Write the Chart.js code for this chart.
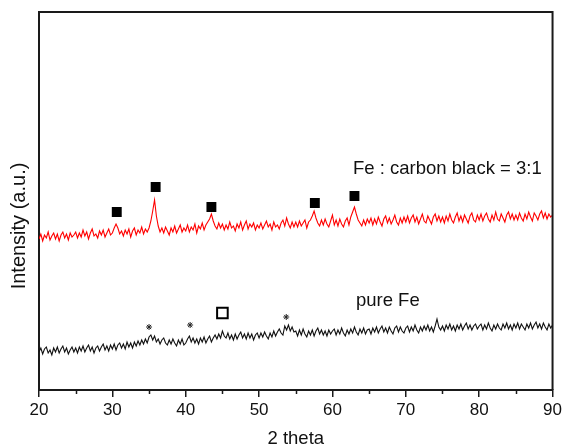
<!DOCTYPE html>
<html>
<head>
<meta charset="utf-8">
<script src="https://cdn.jsdelivr.net/npm/chart.js@4/dist/chart.umd.min.js"></script>
<style>
  html, body { margin: 0; padding: 0; background: #fff; }
  #wrap { width: 565px; height: 448px; position: relative; }
</style>
</head>
<body>
<div id="wrap"><canvas id="c" width="565" height="448"></canvas></div>
<script>
// ---- data ----
const angleStart = 20;      // 2 theta of first sample
const angleStep = 0.25;     // sampling step of the scan
const xTickLabels = [20, 30, 40, 50, 60, 70, 80, 90];

// Fe : carbon black = 3:1 (red trace), arbitrary intensity units
const redIntensity = [
  151,156,149,155,152,158,150,154,157,151,156,149,155,158,152,156,150,157,153,155,
  158,152,157,153,160,154,158,151,157,161,154,156,152,159,155,160,153,157,161,155,
  157,162,166,162,156,159,154,160,156,161,153,159,162,155,160,157,163,156,161,158,
  162,169,179,190,174,164,158,162,157,163,159,155,162,158,164,157,161,165,158,162,
  159,165,158,163,160,166,157,164,161,167,160,165,168,171,176,169,164,161,167,162,
  166,160,165,161,168,162,164,159,166,162,168,160,165,169,161,166,163,167,160,165,
  162,167,161,165,169,163,166,160,168,163,165,161,167,170,164,172,166,162,168,163,
  168,163,169,164,167,170,162,168,170,174,179,172,167,164,170,165,171,166,163,169,
  175,165,170,164,171,166,163,169,172,165,173,178,183,176,170,167,164,170,165,171,
  167,172,165,171,166,173,168,164,171,174,167,172,166,170,175,168,165,172,167,173,
  168,174,167,172,175,168,173,166,171,176,169,167,174,170,166,173,176,169,174,168,
  173,167,174,169,176,170,167,173,177,169,174,168,175,171,167,174,177,170,168,175,
  170,176,169,174,177,171,168,175,170,178,171,169,176,172,168,175,178,171,176,170,
  175,170,177,172,169,176,171,178,173,169,177,174,170,176,179,172,177,171,176,173,
  175
];

// pure Fe (black trace)
const blackIntensity = [
  38,42,36,41,43,37,40,35,42,38,43,37,41,44,38,42,36,40,43,38,
  42,37,43,39,44,38,42,45,39,43,37,42,44,39,43,46,40,44,39,45,
  41,46,40,45,47,42,46,41,48,43,47,42,48,44,49,45,50,46,51,47,
  53,55,50,54,48,51,46,50,52,47,45,50,46,51,47,44,50,46,51,45,
  47,51,54,48,52,47,51,46,52,48,53,47,51,54,48,52,55,51,56,52,
  59,54,52,57,51,55,50,56,51,55,58,52,56,51,57,52,56,50,55,57,
  52,57,53,58,54,51,57,53,59,54,58,61,57,55,64,60,65,59,63,58,
  59,54,60,55,61,56,53,59,55,60,54,59,62,56,60,55,59,54,60,56,
  59,61,55,60,56,62,57,54,60,56,61,57,63,58,55,61,57,62,56,60,
  61,56,62,58,63,57,61,64,58,62,57,63,59,56,62,64,58,63,59,57,
  62,64,58,63,59,65,60,57,63,59,64,60,65,59,63,58,64,71,63,60,
  64,59,65,61,66,60,64,59,65,61,66,60,64,67,61,65,60,64,66,61,
  64,66,60,65,61,67,62,59,65,61,66,62,60,66,62,67,61,65,60,66,
  62,67,61,66,63,60,66,62,67,61,65,68,62,66,61,67,63,60,66,62,
  65
];

// peak markers
const filledSquareX = [30.6, 35.9, 43.5, 57.6, 63.0];
const filledSquareY = [178, 203, 183, 187, 194];
const hollowSquareX = [45.0];
const hollowSquareY = [77];
const asteriskX = [35.0, 40.6, 53.7];
const asteriskY = [63, 65, 73];

// annotation labels (data coordinates)
const labelTexts = ['Fe : carbon black = 3:1', 'pure Fe'];
const labelX = [62.8, 63.2];
const labelY = [216, 84];

// ---- build ----
const angles = redIntensity.map((_, i) => angleStart + i * angleStep);
const toXY = (xs, ys) => xs.map((x, i) => ({ x: x, y: ys[i] }));

const FONT = '"Liberation Sans", Arial, sans-serif';
const AXIS_COLOR = '#1a1a1a';

const decorPlugin = {
  id: 'decor',
  afterDraw(chart) {
    const ctx = chart.ctx;
    const a = chart.chartArea;
    const xs = chart.scales.x;
    const ys = chart.scales.y;
    ctx.save();
    // top and right frame lines
    ctx.strokeStyle = AXIS_COLOR;
    ctx.lineWidth = 2;
    ctx.beginPath();
    ctx.moveTo(a.left, a.top);
    ctx.lineTo(a.right, a.top);
    ctx.lineTo(a.right, a.bottom);
    ctx.stroke();
    // minor ticks
    ctx.lineWidth = 1.5;
    ctx.beginPath();
    for (let v = xs.min + 5; v < xs.max; v += 10) {
      const px = Math.round(xs.getPixelForValue(v)) + 0.5;
      ctx.moveTo(px, a.bottom);
      ctx.lineTo(px, a.bottom + 4);
    }
    ctx.stroke();
    // annotation labels
    ctx.fillStyle = '#111';
    ctx.font = '18.5px ' + FONT;
    ctx.textAlign = 'left';
    ctx.textBaseline = 'alphabetic';
    labelTexts.forEach((t, i) => {
      ctx.fillText(t, xs.getPixelForValue(labelX[i]), ys.getPixelForValue(labelY[i]));
    });
    // axis titles
    ctx.textAlign = 'center';
    ctx.textBaseline = 'middle';
    ctx.font = '18.5px ' + FONT;
    ctx.fillText('2 theta', (a.left + a.right) / 2, 439);
    ctx.translate(19, 226);
    ctx.rotate(-Math.PI / 2);
    ctx.font = '20px ' + FONT;
    ctx.fillText('Intensity (a.u.)', 0, 0);
    ctx.restore();
  }
};

new Chart(document.getElementById('c'), {
  type: 'line',
  data: {
    datasets: [
      {
        label: 'Fe : carbon black = 3:1',
        data: toXY(angles, redIntensity),
        borderColor: '#ff0000',
        borderWidth: 1.1,
        pointRadius: 0,
        tension: 0
      },
      {
        label: 'pure Fe',
        data: toXY(angles, blackIntensity),
        borderColor: '#111111',
        borderWidth: 1.1,
        pointRadius: 0,
        tension: 0
      },
      {
        type: 'scatter',
        data: toXY(filledSquareX, filledSquareY),
        pointStyle: 'rect',
        pointRadius: 7,
        backgroundColor: '#000',
        borderColor: '#000',
        borderWidth: 0
      },
      {
        type: 'scatter',
        data: toXY(hollowSquareX, hollowSquareY),
        pointStyle: 'rect',
        pointRadius: 7.5,
        backgroundColor: '#fff',
        borderColor: '#000',
        borderWidth: 2
      },
      {
        type: 'scatter',
        data: toXY(asteriskX, asteriskY),
        pointStyle: 'star',
        pointRadius: 3,
        backgroundColor: '#000',
        borderColor: '#222',
        borderWidth: 1
      }
    ]
  },
  options: {
    responsive: false,
    animation: false,
    events: [],
    layout: { padding: { top: 12, right: 12, left: 0, bottom: 0 } },
    plugins: { legend: { display: false }, tooltip: { enabled: false } },
    scales: {
      x: {
        type: 'linear',
        min: 20,
        max: 90,
        afterFit(scale) { scale.height = 58; },
        afterBuildTicks(scale) { scale.ticks = xTickLabels.map(v => ({ value: v })); },
        ticks: {
          autoSkip: false,
          maxRotation: 0,
          padding: 3,
          color: '#111',
          font: { family: FONT, size: 17 }
        },
        grid: {
          drawOnChartArea: false,
          drawTicks: true,
          tickLength: 7,
          color: AXIS_COLOR,
          lineWidth: 1.5
        },
        border: { display: true, color: AXIS_COLOR, width: 2 },
        title: { display: false }
      },
      y: {
        type: 'linear',
        min: 0,
        max: 378,
        afterFit(scale) { scale.width = 39; },
        ticks: { display: false },
        grid: { display: false, drawTicks: false },
        border: { display: true, color: AXIS_COLOR, width: 2 },
        title: { display: false }
      }
    }
  },
  plugins: [decorPlugin]
});
</script>
</body>
</html>
